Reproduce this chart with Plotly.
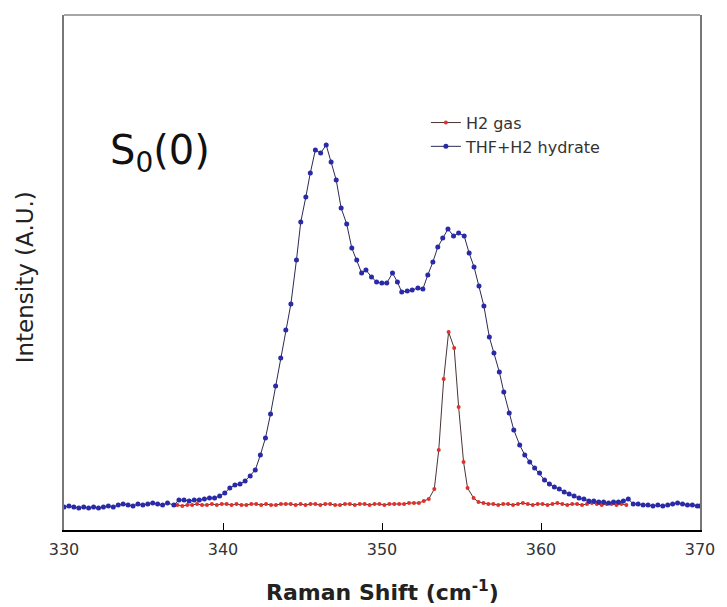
import plotly.graph_objects as go

# THF+H2 hydrate (blue)
blue_x = [330.00, 330.31, 330.62, 330.93, 331.24, 331.55, 331.86, 332.17, 332.48, 332.79,
          333.10, 333.41, 333.72, 334.03, 334.34, 334.65, 334.96, 335.27, 335.58, 335.89,
          336.20, 336.51, 336.91, 337.23, 337.55, 337.87, 338.19, 338.51, 338.83, 339.15,
          339.47, 339.79, 340.11, 340.43, 340.75, 341.07, 341.39, 341.71, 342.03, 342.35,
          342.67, 342.99, 343.31, 343.63, 343.95, 344.27, 344.62, 344.89, 345.21, 345.49,
          345.81, 346.14, 346.49, 346.80, 347.12, 347.43, 347.78, 348.10, 348.41, 348.72,
          348.99, 349.34, 349.66, 349.99, 350.30, 350.66, 350.97, 351.24, 351.59, 351.90,
          352.26, 352.57, 352.88, 353.20, 353.51, 353.82, 354.15, 354.50, 354.82, 355.17,
          355.48, 355.79, 356.10, 356.41, 356.75, 357.04, 357.38, 357.66, 358.00, 358.29,
          358.66, 358.98, 359.29, 359.60, 359.91, 360.22, 360.53, 360.84, 361.15, 361.46,
          361.77, 362.08, 362.39, 362.70, 363.01, 363.32, 363.63, 363.94, 364.25, 364.56,
          364.87, 365.18, 365.49, 365.80, 366.11, 366.42, 366.73, 367.04, 367.35, 367.66,
          367.97, 368.28, 368.59, 368.90, 369.21, 369.52, 369.83, 370.00]
blue_y = [-1, 0, -1, -2, -1, -2, -1, -2, -1, 0,
          -1, 1, 2, 1, 0, 2, 1, 2, 3, 2,
          1, 3, 1, 6, 6, 5, 6, 6, 7, 8,
          8, 10, 13, 18, 21, 22, 25, 30, 36, 51,
          68, 92, 120, 148, 176, 202, 246, 284, 309, 333,
          356, 353, 361, 344, 326, 298, 282, 258, 246, 233,
          236, 229, 224, 223, 223, 233, 224, 214, 215, 216,
          218, 217, 231, 244, 259, 268, 277, 270, 273, 270,
          253, 239, 220, 200, 169, 153, 134, 114, 93, 76,
          61, 51, 44, 38, 33, 26, 22, 19, 17, 14,
          12, 10, 8, 7, 5, 5, 4, 4, 3, 4,
          4, 5, 7, 2, 2, 1, 1, 0, 1, 0,
          1, 2, 3, 2, 1, 1, 0, 0]

# H2 gas (red)
red_x = [337.13, 337.44, 337.75, 338.06, 338.37, 338.68, 338.99, 339.30, 339.61, 339.92,
         340.23, 340.54, 340.85, 341.16, 341.47, 341.78, 342.09, 342.40, 342.71, 343.02,
         343.33, 343.64, 343.95, 344.26, 344.57, 344.88, 345.19, 345.50, 345.81, 346.12,
         346.43, 346.74, 347.05, 347.36, 347.67, 347.98, 348.29, 348.60, 348.91, 349.22,
         349.53, 349.84, 350.15, 350.46, 350.77, 351.08, 351.39, 351.70, 352.01, 352.32,
         352.63, 352.94, 353.29, 353.57, 353.88, 354.19, 354.54, 354.82, 355.13, 355.38,
         355.76, 356.07, 356.38, 356.69, 357.00, 357.31, 357.62, 357.93, 358.24, 358.55,
         358.86, 359.17, 359.48, 359.79, 360.10, 360.41, 360.72, 361.03, 361.34, 361.65,
         361.96, 362.27, 362.58, 362.89, 363.20, 363.51, 363.82, 364.13, 364.44, 364.75,
         365.06, 365.37]
red_y = [1, 0, 1, 1, 2, 1, 1, 2, 1, 2,
         2, 1, 2, 1, 1, 2, 2, 1, 2, 1,
         1, 2, 2, 2, 1, 2, 1, 2, 2, 1,
         2, 2, 1, 1, 2, 2, 1, 2, 2, 1,
         2, 2, 1, 2, 2, 2, 2, 3, 3, 3,
         5, 7, 17, 56, 127, 174, 158, 99, 44, 18,
         8, 4, 3, 2, 2, 1, 2, 2, 1, 2,
         3, 2, 1, 2, 2, 1, 2, 3, 2, 1,
         2, 2, 1, 2, 3, 2, 1, 2, 2, 1,
         2, 1]

x_ticks = [330, 340, 350, 360, 370]
x_range = [330, 370]
y_range = [-24, 491]

FONT = "DejaVu Sans, Arial, sans-serif"

fig = go.Figure()
fig.add_trace(go.Scatter(
    x=red_x, y=red_y, mode="lines+markers", name="H2 gas",
    line=dict(color="#4a3434", width=1),
    marker=dict(color="#e0302a", size=4),
))
fig.add_trace(go.Scatter(
    x=blue_x, y=blue_y, mode="lines+markers", name="THF+H2 hydrate",
    line=dict(color="#2b2b55", width=1),
    marker=dict(color="#2a2aa8", size=5),
))

fig.update_layout(
    width=727, height=607,
    margin=dict(l=64, r=22, t=15, b=77),
    paper_bgcolor="white", plot_bgcolor="white",
    font=dict(family=FONT, color="#333"),
    showlegend=True,
    legend=dict(x=0.569, y=0.824, xanchor="left", yanchor="top",
                bgcolor="rgba(0,0,0,0)", borderwidth=0,
                font=dict(family=FONT, size=16, color="#333"),
                itemwidth=30, tracegroupgap=0),
    xaxis=dict(range=x_range, tickvals=x_ticks, ticks="inside", ticklen=7,
               tickcolor="black", tickwidth=1, showgrid=False, zeroline=False,
               showline=True, linecolor="black", linewidth=1.5,
               ticklabelstandoff=4,
               tickfont=dict(family=FONT, size=16, color="#333")),
    yaxis=dict(range=y_range, showticklabels=False, ticks="", showgrid=False,
               zeroline=False, showline=True, linecolor="#777", linewidth=1.5,
               mirror=True),
    shapes=[dict(type="line", xref="paper", yref="paper", x0=0, x1=1, y0=1, y1=1,
                 line=dict(color="#888", width=1.5))],
    annotations=[
        dict(text="S<sub>0</sub>(0)", x=332.75, y=353, xref="x", yref="y",
             xanchor="left", yanchor="middle", showarrow=False,
             font=dict(family=FONT, size=40, color="#111")),
        dict(text="<b>Raman Shift (cm<sup>-1</sup>)</b>", x=0.5, y=-0.118,
             xref="paper", yref="paper", xanchor="center", yanchor="middle",
             showarrow=False, font=dict(family=FONT, size=22, color="#222")),
        dict(text="Intensity (A.U.)", x=-0.061, y=0.491, xref="paper", yref="paper",
             xanchor="center", yanchor="middle", textangle=-90, showarrow=False,
             font=dict(family=FONT, size=23, color="#222")),
    ],
)

fig.write_html("out.html")
